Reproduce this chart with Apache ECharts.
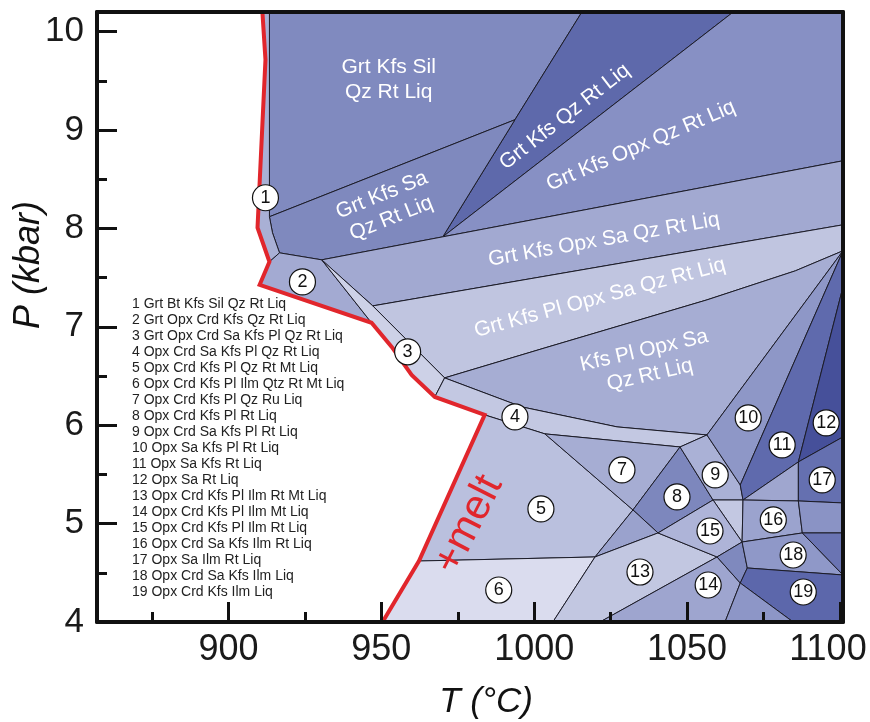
<!DOCTYPE html>
<html><head><meta charset="utf-8">
<script src="https://cdn.jsdelivr.net/npm/echarts@6/dist/echarts.min.js"></script>
<style>html,body{margin:0;padding:0;background:#fff;}#chart{width:870px;height:722px;}</style>
</head><body><div id="chart"></div>
<script>
// ---- axes ----
const tMin = 857, tMax = 1101, pMin = 4, pMax = 10.2;
const tTicks = [900, 950, 1000, 1050, 1100];
const tMinorTicks = [875, 925, 975, 1025, 1075];
const pTicks = [4, 5, 6, 7, 8, 9, 10];
const pMinorTicks = [4.5, 5.5, 6.5, 7.5, 8.5, 9.5];

// ---- nodes of the pseudosection [T (°C), P (kbar)] ----
// melt-in (solidus) line nodes
const R1 = [911.1, 10.2], R2 = [912.1, 9.715], R3 = [909.5, 8.007], R4 = [913.4, 7.661];
const R5 = [910.2, 7.427], R6 = [946.8, 7.041], R7 = [953.4, 6.796], R8 = [959.9, 6.511];
const R9 = [967.5, 6.288], R10 = [983.8, 6.105], R11 = [962.3, 4.62], R12 = [950.4, 4.0];
// field boundary nodes
const A0 = [913.4, 10.2], A = [913.4, 8.119], B = [914.4, 7.956], C = [916.7, 7.752];
const D = [930.5, 7.681], E = [993.7, 9.105], F = [970.1, 7.915];
const W1 = [1015.6, 10.2], W2 = [1065.1, 10.2], TR = [1101, 10.2];
const K1 = [1101, 8.688], K2 = [1101, 8.037], K3 = [1101, 7.773], K4 = [1101, 7.407], K5 = [1101, 5.881];
const M = [947.2, 7.213], N = [970.7, 6.481], N2 = [1003.5, 6.786], N3 = [1056.5, 7.274], N4 = [1085.4, 7.569];
const N5 = [996.0, 6.186], N6 = [1027.1, 5.983], G = [1056.5, 5.901], H = [1047.7, 5.779], Y1 = [1003.5, 5.912];
const P9 = [1067.4, 5.393], Q = [1068.3, 5.240], Q2 = [1058.5, 5.240], S = [1086.4, 5.627];
const X1 = [1040.5, 4.905], X2 = [1032.3, 5.139], X3 = [1059.8, 4.661], X4 = [1067.4, 4.396];
const Z1 = [1019.9, 4.661], Z2 = [1006.1, 4], Z3 = [1021.5, 4], Z4 = [1062.4, 4], Z5 = [1084.7, 4];
const V1 = [1068.0, 4.813], V2 = [1069.7, 4.549];
const U1 = [1086.4, 5.230], U2 = [1087.7, 4.905], U3 = [1101, 5.210], U4 = [1101, 4.905], U5 = [1101, 4.478];
const BR = [1101, 4];

const meltLine = [R1, R2, R3, R4, R5, R6, R7, R8, R9, R10, R11, R12];

// ---- phase fields (polygons) ----
const fields = [
  [A0, W1, E, A],                 // Grt Kfs Sil Qz Rt Liq
  [W1, W2, F, E],                 // Grt Kfs Qz Rt Liq
  [W2, TR, K1, F],                // Grt Kfs Opx Qz Rt Liq
  [A, E, F, D, C, B],             // Grt Kfs Sa Qz Rt Liq
  [D, F, K1, K2, M],              // Grt Kfs Opx Sa Qz Rt Liq
  [M, K2, K3, N4, N3, N2, N],     // Grt Kfs Pl Opx Sa Qz Rt Liq
  [N, N2, N3, N4, K3, G, N6, N5], // Kfs Pl Opx Sa Qz Rt Liq
  [R1, A0, A, B, C, R4, R3, R2],  // 1
  [R4, C, D, R6, R5],             // 2
  [D, M, N, R9, R8, R7, R6],      // 3
  [N, N5, N6, G, H, Y1, R10, R9], // 4
  [R10, Y1, X2, Z1, R11],         // 5
  [R11, Z1, Z2, R12],             // 6
  [Y1, H, X2],                    // 7
  [H, Q2, X1, X2],                // 8
  [H, G, P9, Q, Q2],              // 9
  [G, K3, P9],                    // 10
  [K3, K4, S, Q, P9],             // 11
  [K4, K5, S],                    // 12
  [Z1, X2, X1],                   // small field
  [Z1, X1, X3, Z3, Z2],           // 13
  [Z3, X3, X4, Z4],               // 14
  [Q2, Q, V1],                    // small field
  [Q2, V1, X3, X1],               // 15
  [X3, V1, V2, X4],               // small field
  [Q, S, U1],                     // small field
  [Q, U1, U2, V1],                // 16
  [S, K5, U3, U1],                // 17
  [U1, U3, U4, U2],               // small field
  [V1, U2, U5, V2],               // 18
  [U2, U4, U5],                   // small field
  [V2, U5, BR, Z5, X4],           // 19
  [X4, Z5, Z4]                    // small field
];
const fieldColors = [
  '#808abf', '#5e69ab', '#8790c4', '#7f89be', '#a2a9d1', '#c0c5e0', '#a6add3',
  '#a9b0d5', '#a3aad2', '#cdd1e7', '#c3c8e2', '#bac0de', '#dadcee', '#a6add3',
  '#7d87bd', '#aab1d6', '#8e97c7', '#5f6aad', '#46509a', '#9aa2cd', '#c2c7e1',
  '#9ea5cf', '#c3c8e2', '#aeb4d8', '#7f89be', '#9fa6cf', '#9ba3ce', '#6570b0',
  '#8a93c5', '#8f98c8', '#6a74b3', '#5c67ab', '#8d96c7'
];

// ---- field names written in the diagram ----
const fieldLabels = ['Grt Kfs Sil\nQz Rt Liq', 'Grt Kfs Qz Rt Liq', 'Grt Kfs Opx Qz Rt Liq', 'Grt Kfs Sa\nQz Rt Liq',
  'Grt Kfs Opx Sa Qz Rt Liq', 'Grt Kfs Pl Opx Sa Qz Rt Liq', 'Kfs Pl Opx Sa\nQz Rt Liq'];
const fieldLabelT = [952.4, 1010.0, 1034.9, 951.7, 1022.8, 1021.5, 1036.9];
const fieldLabelP = [9.51, 9.135, 8.84, 8.22, 7.885, 7.295, 6.634];
const fieldLabelAngle = [0, 38, 23, 22, 10, 15, 13];

// ---- numbered small fields ----
const numIds = ['1','2','3','4','5','6','7','8','9','10','11','12','13','14','15','16','17','18','19'];
const numT = [912.1, 924.2, 958.6, 993.7, 1002.2, 988.4, 1028.7, 1046.7, 1059.2, 1070.0, 1081.1, 1095.5, 1034.6, 1056.9, 1057.5, 1078.2, 1094.2, 1084.7, 1088.0];
const numP = [8.312, 7.457, 6.746, 6.085, 5.149, 4.325, 5.546, 5.271, 5.495, 6.074, 5.800, 6.024, 4.508, 4.376, 4.925, 5.037, 5.444, 4.681, 4.305];

// ---- melt label anchor ----
const meltLabelT = [978.6], meltLabelP = [4.99];

const legendLines = [
  '1 Grt Bt Kfs Sil Qz Rt Liq', '2 Grt Opx Crd Kfs Qz Rt Liq', '3 Grt Opx Crd Sa Kfs Pl Qz Rt Liq',
  '4 Opx Crd Sa Kfs Pl Qz Rt Liq', '5 Opx Crd Kfs Pl Qz Rt Mt Liq', '6 Opx Crd Kfs Pl Ilm Qtz Rt Mt Liq',
  '7 Opx Crd Kfs Pl Qz Ru Liq', '8 Opx Crd Kfs Pl Rt Liq', '9 Opx Crd Sa Kfs Pl Rt Liq',
  '10 Opx Sa Kfs Pl Rt Liq', '11 Opx Sa Kfs Rt Liq', '12 Opx Sa Rt Liq',
  '13 Opx Crd Kfs Pl Ilm Rt Mt Liq', '14 Opx Crd Kfs Pl Ilm Mt Liq', '15 Opx Crd Kfs Pl Ilm Rt Liq',
  '16 Opx Crd Sa Kfs Ilm Rt Liq', '17 Opx Sa Ilm Rt Liq', '18 Opx Crd Sa Kfs Ilm Liq', '19 Opx Crd Kfs Ilm Liq'
];

const FONT = '"Liberation Sans", Arial, sans-serif';
const chart = echarts.init(document.getElementById('chart'), null, {renderer: 'canvas'});

const frameAxisLine = {show: true, onZero: false, lineStyle: {color: '#111', width: 4}};
const noThing = {show: false};

chart.setOption({
  animation: false,
  backgroundColor: '#fff',
  grid: {left: 97, right: 27, top: 12, bottom: 100, containLabel: false, outerBoundsMode: 'none'},
  xAxis: [
    {type: 'value', min: tMin, max: tMax, position: 'bottom', z: 10,
      axisLine: frameAxisLine,
      axisTick: {show: true, inside: true, length: 20, lineStyle: {color: '#111', width: 3}, customValues: tTicks},
      axisLabel: {show: true, customValues: tTicks, margin: 10, fontSize: 36, color: '#1a1a1a', fontFamily: FONT,
        formatter: v => v === 1100 ? '{s|1100}' : String(v),
        rich: {s: {fontSize: 36, color: '#1a1a1a', fontFamily: FONT, padding: [0, 24, 0, 0]}}},
      splitLine: noThing},
    {type: 'value', min: tMin, max: tMax, position: 'bottom', z: 10,
      axisLine: noThing,
      axisTick: {show: true, inside: true, length: 10, lineStyle: {color: '#111', width: 3}, customValues: tMinorTicks},
      axisLabel: noThing, splitLine: noThing},
    {type: 'value', min: tMin, max: tMax, position: 'top', z: 10,
      axisLine: frameAxisLine, axisTick: noThing, axisLabel: noThing, splitLine: noThing}
  ],
  yAxis: [
    {type: 'value', min: pMin, max: pMax, position: 'left', z: 10,
      axisLine: frameAxisLine,
      axisTick: {show: true, inside: true, length: 20, lineStyle: {color: '#111', width: 3}, customValues: pTicks},
      axisLabel: {show: true, customValues: pTicks, margin: 13, fontSize: 35, color: '#1a1a1a', fontFamily: FONT},
      splitLine: noThing},
    {type: 'value', min: pMin, max: pMax, position: 'left', z: 10,
      axisLine: noThing,
      axisTick: {show: true, inside: true, length: 10, lineStyle: {color: '#111', width: 3}, customValues: pMinorTicks},
      axisLabel: noThing, splitLine: noThing},
    {type: 'value', min: pMin, max: pMax, position: 'right', z: 10,
      axisLine: frameAxisLine, axisTick: noThing, axisLabel: noThing, splitLine: noThing}
  ],
  series: [
    {
      type: 'custom', name: 'fields', coordinateSystem: 'cartesian2d', xAxisIndex: 0, yAxisIndex: 0,
      clip: true, z: 2, silent: true,
      data: fields.map(f => f[0]),
      encode: {x: 0, y: 1},
      renderItem: (params, api) => {
        const poly = fields[params.dataIndex];
        return {
          type: 'polygon',
          shape: {points: poly.map(v => api.coord(v))},
          style: {fill: fieldColors[params.dataIndex], stroke: '#1c1c28', lineWidth: 1, lineJoin: 'round'}
        };
      }
    },
    {
      type: 'line', name: 'melt', xAxisIndex: 0, yAxisIndex: 0, z: 4, silent: true,
      data: meltLine, symbol: 'none',
      lineStyle: {color: '#e1262c', width: 4, join: 'miter'}
    },
    {
      type: 'custom', name: 'labels', coordinateSystem: 'cartesian2d', xAxisIndex: 0, yAxisIndex: 0,
      z: 5, silent: true,
      data: fieldLabelT.map((t, i) => [t, fieldLabelP[i]]),
      encode: {x: 0, y: 1},
      renderItem: (params, api) => {
        const i = params.dataIndex;
        const p = api.coord([fieldLabelT[i], fieldLabelP[i]]);
        return {
          type: 'text', x: p[0], y: p[1], rotation: fieldLabelAngle[i] * Math.PI / 180,
          style: {text: fieldLabels[i], fill: '#ffffff', font: '21px ' + FONT, align: 'center', verticalAlign: 'middle', lineHeight: 25}
        };
      }
    },
    {
      type: 'custom', name: 'melt label', coordinateSystem: 'cartesian2d', xAxisIndex: 0, yAxisIndex: 0,
      z: 5, silent: true,
      data: meltLabelT.map((t, i) => [t, meltLabelP[i]]),
      encode: {x: 0, y: 1},
      renderItem: (params, api) => {
        const p = api.coord([meltLabelT[params.dataIndex], meltLabelP[params.dataIndex]]);
        return {
          type: 'text', x: p[0], y: p[1], rotation: 63 * Math.PI / 180,
          style: {text: '+melt', fill: '#e1262c', font: '42px ' + FONT, align: 'center', verticalAlign: 'middle'}
        };
      }
    },
    {
      type: 'scatter', name: 'numbers', xAxisIndex: 0, yAxisIndex: 0, z: 6, silent: true,
      data: numT.map((t, i) => ({value: [t, numP[i]], name: numIds[i]})),
      symbol: 'circle', symbolSize: 26,
      itemStyle: {color: '#ffffff', borderColor: '#111', borderWidth: 1.2, opacity: 1},
      label: {show: true, position: 'inside', formatter: p => p.name, color: '#111', fontSize: 18, fontFamily: FONT}
    }
  ],
  graphic: [
    ...legendLines.map((t, i) => ({
      type: 'text', left: 132, top: 297 + i * 16, z: 20,
      style: {text: t, font: '14px ' + FONT, fill: '#222'}
    })),
    {type: 'text', x: 29, y: 265, rotation: Math.PI / 2, z: 20,
      style: {text: 'P (kbar)', font: 'italic 36px ' + FONT, fill: '#111', align: 'center', verticalAlign: 'middle'}},
    {type: 'text', x: 486, y: 702, z: 20,
      style: {text: 'T (°C)', font: 'italic 35px ' + FONT, fill: '#111', align: 'center', verticalAlign: 'middle'}}
  ]
});
</script></body></html>
